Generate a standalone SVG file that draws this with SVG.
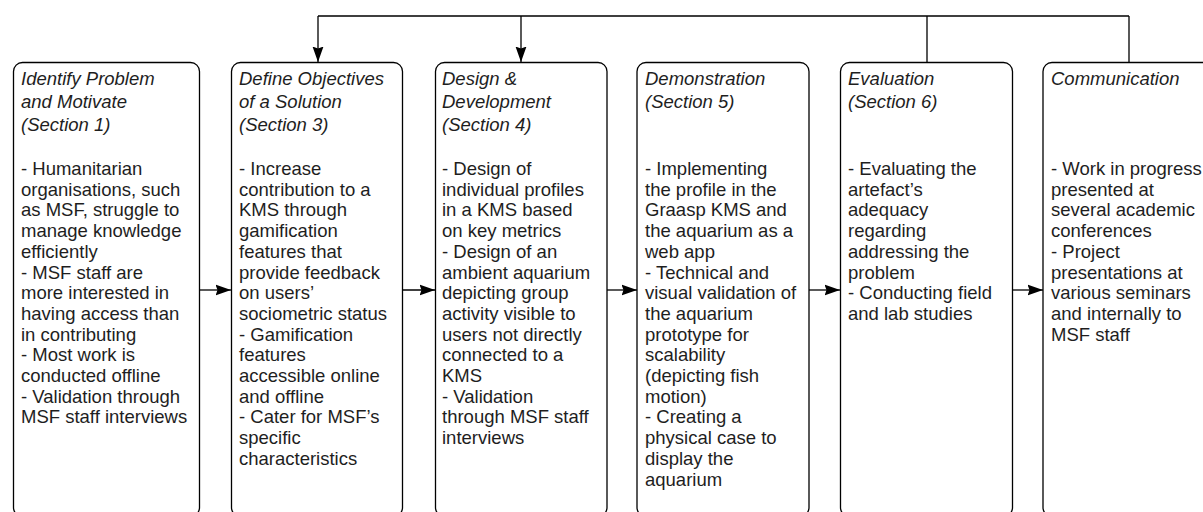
<svg xmlns="http://www.w3.org/2000/svg" width="1203" height="512" viewBox="0 0 1203 512">
  <style>
    .box { fill: #ffffff; stroke: #000000; stroke-width: 1.3; }
    .title { font-family: "Liberation Sans", Arial, Helvetica, sans-serif; font-size: 18.5px; font-style: italic; fill: #1e1e1e; }
    .body { font-family: "Liberation Sans", Arial, Helvetica, sans-serif; font-size: 18.5px; fill: #1e1e1e; }
    .edge { fill: none; stroke: #000000; stroke-width: 1.3; }
  </style>
  <defs>
    <marker id="arrow" viewBox="0 0 16 12" refX="15.5" refY="6" markerWidth="16" markerHeight="12" markerUnits="userSpaceOnUse" orient="auto">
      <path d="M0,0.5 L15.5,6 L0,11.5 L2,6 Z" fill="#000000"/>
    </marker>
  </defs>

  <!-- connectors -->
  <g id="connectors">
    <!-- feedback line across the top -->
    <path class="edge" d="M927,62 V16 M1129,62 V16 M318,16 H1129"/>
    <path class="edge" d="M318,16 V62" marker-end="url(#arrow)"/>
    <path class="edge" d="M521,16 V62" marker-end="url(#arrow)"/>
    <!-- process steps -->
    <path class="edge" d="M199,290 H231" marker-end="url(#arrow)"/>
    <path class="edge" d="M402,290 H435" marker-end="url(#arrow)"/>
    <path class="edge" d="M607,290 H637" marker-end="url(#arrow)"/>
    <path class="edge" d="M809,290 H840" marker-end="url(#arrow)"/>
    <path class="edge" d="M1012,290 H1043" marker-end="url(#arrow)"/>
  </g>

  <g id="identify">
    <rect class="box" x="13.5" y="62.5" width="186" height="454" rx="9"/>
    <text class="title" x="21"><tspan x="21" y="85">Identify Problem</tspan><tspan x="21" y="108">and Motivate</tspan><tspan x="21" y="131">(Section 1)</tspan></text>
    <text class="body" x="21">
      <tspan x="21" y="175">- Humanitarian</tspan>
      <tspan x="21" y="195.7">organisations, such</tspan>
      <tspan x="21" y="216.4">as MSF, struggle to</tspan>
      <tspan x="21" y="237.1">manage knowledge</tspan>
      <tspan x="21" y="257.8">efficiently</tspan>
      <tspan x="21" y="278.5">- MSF staff are</tspan>
      <tspan x="21" y="299.2">more interested in</tspan>
      <tspan x="21" y="319.9">having access than</tspan>
      <tspan x="21" y="340.6">in contributing</tspan>
      <tspan x="21" y="361.3">- Most work is</tspan>
      <tspan x="21" y="382">conducted offline</tspan>
      <tspan x="21" y="402.7">- Validation through</tspan>
      <tspan x="21" y="423.4">MSF staff interviews</tspan>
    </text>
  </g>

  <g id="objectives">
    <rect class="box" x="231.5" y="62.5" width="171" height="454" rx="9"/>
    <text class="title"><tspan x="239" y="85">Define Objectives</tspan><tspan x="239" y="108">of a Solution</tspan><tspan x="239" y="131">(Section 3)</tspan></text>
    <text class="body">
      <tspan x="239" y="175">- Increase</tspan>
      <tspan x="239" y="195.7">contribution to a</tspan>
      <tspan x="239" y="216.4">KMS through</tspan>
      <tspan x="239" y="237.1">gamification</tspan>
      <tspan x="239" y="257.8">features that</tspan>
      <tspan x="239" y="278.5">provide feedback</tspan>
      <tspan x="239" y="299.2">on users’</tspan>
      <tspan x="239" y="319.9">sociometric status</tspan>
      <tspan x="239" y="340.6">- Gamification</tspan>
      <tspan x="239" y="361.3">features</tspan>
      <tspan x="239" y="382">accessible online</tspan>
      <tspan x="239" y="402.7">and offline</tspan>
      <tspan x="239" y="423.4">- Cater for MSF’s</tspan>
      <tspan x="239" y="444.1">specific</tspan>
      <tspan x="239" y="464.8">characteristics</tspan>
    </text>
  </g>

  <g id="design">
    <rect class="box" x="435.5" y="62.5" width="171.5" height="454" rx="9"/>
    <text class="title"><tspan x="442" y="85">Design &amp;</tspan><tspan x="442" y="108">Development</tspan><tspan x="442" y="131">(Section 4)</tspan></text>
    <text class="body">
      <tspan x="442" y="175">- Design of</tspan>
      <tspan x="442" y="195.7">individual profiles</tspan>
      <tspan x="442" y="216.4">in a KMS based</tspan>
      <tspan x="442" y="237.1">on key metrics</tspan>
      <tspan x="442" y="257.8">- Design of an</tspan>
      <tspan x="442" y="278.5">ambient aquarium</tspan>
      <tspan x="442" y="299.2">depicting group</tspan>
      <tspan x="442" y="319.9">activity visible to</tspan>
      <tspan x="442" y="340.6">users not directly</tspan>
      <tspan x="442" y="361.3">connected to a</tspan>
      <tspan x="442" y="382">KMS</tspan>
      <tspan x="442" y="402.7">- Validation</tspan>
      <tspan x="442" y="423.4">through MSF staff</tspan>
      <tspan x="442" y="444.1">interviews</tspan>
    </text>
  </g>

  <g id="demonstration">
    <rect class="box" x="637" y="62.5" width="172" height="454" rx="9"/>
    <text class="title"><tspan x="645" y="85">Demonstration</tspan><tspan x="645" y="108">(Section 5)</tspan></text>
    <text class="body">
      <tspan x="645" y="175">- Implementing</tspan>
      <tspan x="645" y="195.7">the profile in the</tspan>
      <tspan x="645" y="216.4">Graasp KMS and</tspan>
      <tspan x="645" y="237.1">the aquarium as a</tspan>
      <tspan x="645" y="257.8">web app</tspan>
      <tspan x="645" y="278.5">- Technical and</tspan>
      <tspan x="645" y="299.2">visual validation of</tspan>
      <tspan x="645" y="319.9">the aquarium</tspan>
      <tspan x="645" y="340.6">prototype for</tspan>
      <tspan x="645" y="361.3">scalability</tspan>
      <tspan x="645" y="382">(depicting fish</tspan>
      <tspan x="645" y="402.7">motion)</tspan>
      <tspan x="645" y="423.4">- Creating a</tspan>
      <tspan x="645" y="444.1">physical case to</tspan>
      <tspan x="645" y="464.8">display the</tspan>
      <tspan x="645" y="485.5">aquarium</tspan>
    </text>
  </g>

  <g id="evaluation">
    <rect class="box" x="840.5" y="62.5" width="172" height="454" rx="9"/>
    <text class="title"><tspan x="848" y="85">Evaluation</tspan><tspan x="848" y="108">(Section 6)</tspan></text>
    <text class="body">
      <tspan x="848" y="175">- Evaluating the</tspan>
      <tspan x="848" y="195.7">artefact’s</tspan>
      <tspan x="848" y="216.4">adequacy</tspan>
      <tspan x="848" y="237.1">regarding</tspan>
      <tspan x="848" y="257.8">addressing the</tspan>
      <tspan x="848" y="278.5">problem</tspan>
      <tspan x="848" y="299.2">- Conducting field</tspan>
      <tspan x="848" y="319.9">and lab studies</tspan>
    </text>
  </g>

  <g id="communication">
    <rect class="box" x="1043" y="62.5" width="172" height="454" rx="9"/>
    <text class="title"><tspan x="1051" y="85">Communication</tspan></text>
    <text class="body">
      <tspan x="1051" y="175">- Work in progress</tspan>
      <tspan x="1051" y="195.7">presented at</tspan>
      <tspan x="1051" y="216.4">several academic</tspan>
      <tspan x="1051" y="237.1">conferences</tspan>
      <tspan x="1051" y="257.8">- Project</tspan>
      <tspan x="1051" y="278.5">presentations at</tspan>
      <tspan x="1051" y="299.2">various seminars</tspan>
      <tspan x="1051" y="319.9">and internally to</tspan>
      <tspan x="1051" y="340.6">MSF staff</tspan>
    </text>
  </g>
</svg>
